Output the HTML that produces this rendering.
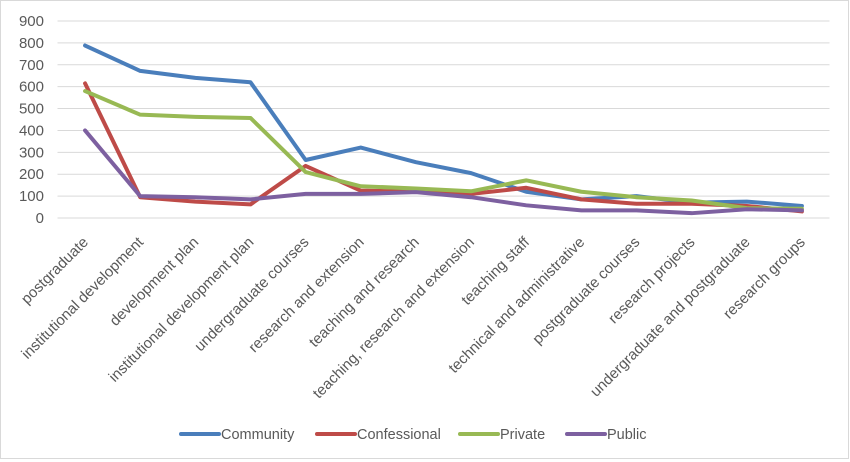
<!DOCTYPE html>
<html><head><meta charset="utf-8"><style>
body{margin:0;background:#fff;}
svg{display:block;font-family:"Liberation Sans",sans-serif;}
</style></head><body>
<svg width="850" height="462" viewBox="0 0 850 462" id="chart">
<rect x="0.5" y="0.5" width="848" height="458" fill="#fff" stroke="#d9d9d9"/>
<g id="grid"></g><g id="ylabels"></g><g id="xlabels"></g><g id="series"></g><g id="legend"></g>
</svg>
<script>
const categories=["postgraduate","institutional development","development plan","institutional development plan","undergraduate courses","research and extension","teaching and research","teaching, research and extension","teaching staff","technical and administrative","postgraduate courses","research projects","undergraduate and postgraduate","research groups"];
const community=[788,672,640,620,265,322,255,205,120,85,100,70,75,55];
const confessional=[615,95,75,62,238,125,120,110,138,85,65,65,55,30];
const privateVals=[580,472,462,457,210,145,135,122,172,120,95,80,45,42];
const publicVals=[400,100,95,85,110,110,118,95,58,35,35,22,40,35];
const yTicks=[0,100,200,300,400,500,600,700,800,900];
const seriesNames=["Community","Confessional","Private","Public"];
const colors=["#4a7ebb","#be4b48","#98b954","#7d60a0"];
const NS="http://www.w3.org/2000/svg";
const L=57.5,R=829.5,Y0=218,Y900=21;
const y=v=>Y0-(v/900)*(Y0-Y900);
const bw=(R-L)/categories.length;
const x=i=>L+bw*(i+0.5);
function mk(t,a,p){const e=document.createElementNS(NS,t);for(const k in a)e.setAttribute(k,a[k]);p.appendChild(e);return e;}
const grid=document.getElementById('grid'),yl=document.getElementById('ylabels'),xl=document.getElementById('xlabels'),sg=document.getElementById('series'),lg=document.getElementById('legend');
yTicks.forEach(t=>{
 const l=mk('line',{x1:L,x2:R,y1:y(t),y2:y(t),stroke:'#d9d9d9','stroke-width':1},grid);
 
 
 const tx=mk('text',{x:44,y:y(t)+5,'text-anchor':'end','font-size':15,fill:'#595959'},yl);
 tx.textContent=t;
 
 
});
categories.forEach((c,i)=>{
 const tx=mk('text',{x:0,y:0,'text-anchor':'end','font-size':15,fill:'#595959',transform:`translate(${x(i)+4},${243}) rotate(-45)`},xl);
 tx.textContent=c;
 
 
});
[community,confessional,privateVals,publicVals].forEach((d,s)=>{
 const p=mk('polyline',{points:d.map((v,i)=>x(i)+','+y(v)).join(' '),fill:'none',stroke:colors[s],'stroke-width':4,'stroke-linejoin':'round','stroke-linecap':'round'},sg);
 
 
});
const lx=[181,317,460,567];
seriesNames.forEach((n,s)=>{
 const g=mk('g',{},lg);
 
 
 mk('line',{x1:lx[s],x2:lx[s]+38,y1:434,y2:434,stroke:colors[s],'stroke-width':4,'stroke-linecap':'round'},g);
 const t=mk('text',{x:lx[s]+40,y:439,'font-size':14.5,fill:'#595959'},g);
 t.textContent=n;
});
</script>
</body></html>
